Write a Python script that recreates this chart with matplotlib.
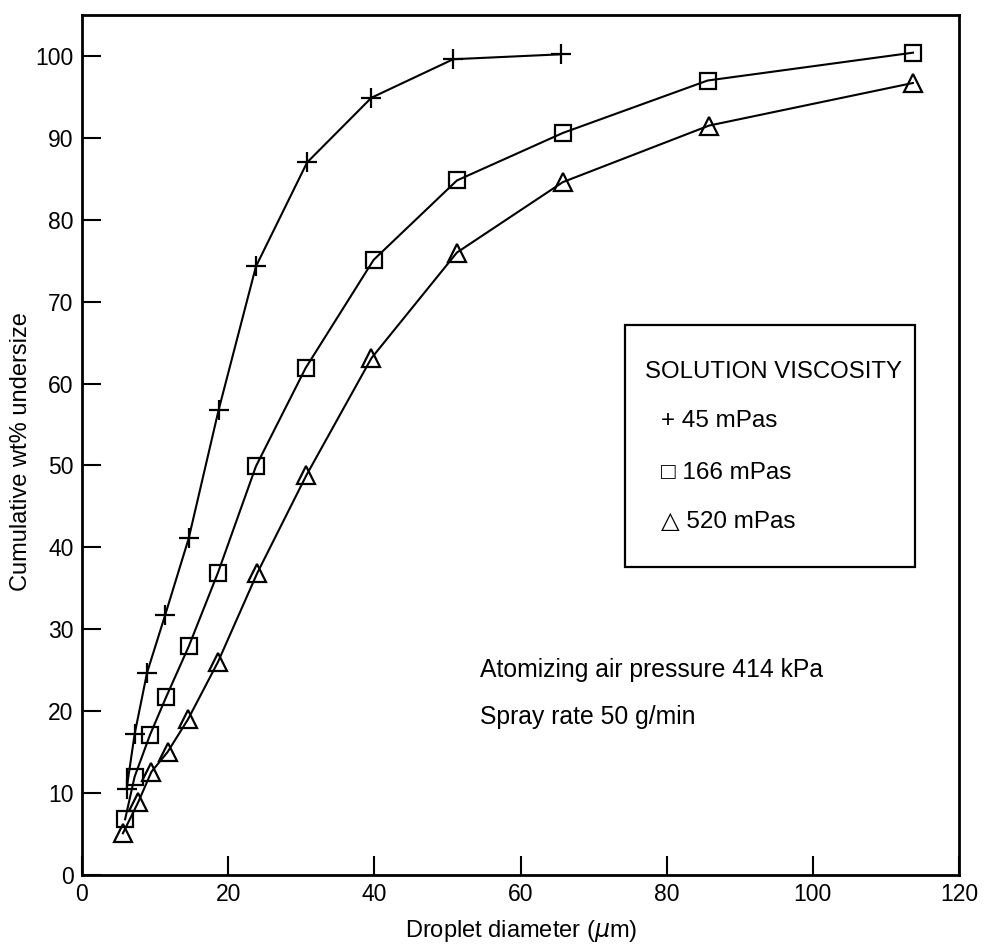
import matplotlib
matplotlib.use("Agg")
import matplotlib.pyplot as plt
from matplotlib.patches import Rectangle

plt.rcParams['font.family'] = ['Liberation Sans', 'DejaVu Sans']

# Data
x_45 = [6.1, 7.2, 8.9, 11.4, 14.6, 18.7, 23.8, 30.8, 39.6, 50.8, 65.5]
y_45 = [10.5, 17.2, 24.7, 31.8, 41.1, 56.8, 74.3, 87.0, 94.9, 99.6, 100.2]

x_166 = [5.9, 7.2, 9.3, 11.5, 14.6, 18.6, 23.8, 30.6, 39.9, 51.3, 65.8, 85.6, 113.7]
y_166 = [6.8, 12.0, 17.1, 21.7, 27.9, 36.9, 49.9, 61.9, 75.1, 84.8, 90.6, 97.0, 100.4]

x_520 = [5.6, 7.7, 9.5, 11.7, 14.5, 18.6, 24.0, 30.7, 39.6, 51.3, 65.8, 85.8, 113.7]
y_520 = [5.1, 8.9, 12.6, 15.0, 19.0, 26.0, 36.9, 48.8, 63.1, 76.0, 84.6, 91.5, 96.7]

x_ticks = [0, 20, 40, 60, 80, 100, 120]
y_ticks = [0, 10, 20, 30, 40, 50, 60, 70, 80, 90, 100]

legend_title = "SOLUTION VISCOSITY"
legend_labels = ["+ 45 mPas", "\u25a1 166 mPas", "\u25b3 520 mPas"]
notes = ["Atomizing air pressure 414 kPa", "Spray rate 50 g/min"]

fig = plt.figure(figsize=(9.84, 9.44), dpi=100)
ax = fig.add_axes([82/984, 69/944, (959-82)/984, (875-15)/944])

lw = 1.5
ax.plot(x_45, y_45, color='black', lw=lw, marker='+', ms=15, mew=1.6)
ax.plot(x_166, y_166, color='black', lw=lw, marker='s', ms=11, mew=1.6,
        mfc='none')
ax.plot(x_520, y_520, color='black', lw=lw, marker='^', ms=13, mew=1.6,
        mfc='none')

ax.set_xlim(0, 120)
ax.set_ylim(0, 105)
ax.set_xticks(x_ticks)
ax.set_yticks(y_ticks)
ax.tick_params(direction='in', length=14, width=1.5, labelsize=16.5,
               top=False, right=False, pad=6)
for s in ax.spines.values():
    s.set_linewidth(2)

def fx(px):
    return (px - 82) / (959 - 82)

def fy(py):
    return (875 - py) / (875 - 15)

ax.set_xlabel("Droplet diameter ($\\mu$m)", fontsize=17, va='center')
ax.xaxis.set_label_coords(fx(521), fy(931))
ax.set_ylabel("Cumulative wt% undersize", fontsize=17, va='center')
ax.yaxis.set_label_coords(fx(21), fy(452))

# Legend box
ax.add_patch(Rectangle((fx(625), fy(567)), fx(915) - fx(625), fy(325) - fy(567),
                       transform=ax.transAxes, fill=False, lw=1.6,
                       edgecolor='black'))
ax.text(fx(645), fy(372), legend_title, transform=ax.transAxes, fontsize=17.3,
        va='center', ha='left')
for lab, py in zip(legend_labels, [421, 473, 522]):
    ax.text(fx(661), fy(py), lab, transform=ax.transAxes, fontsize=17.5,
            va='center', ha='left')

for note, py in zip(notes, [670, 717]):
    ax.text(fx(480), fy(py), note, transform=ax.transAxes, fontsize=17.8,
            va='center', ha='left')

fig.savefig("out.png", dpi=100)
